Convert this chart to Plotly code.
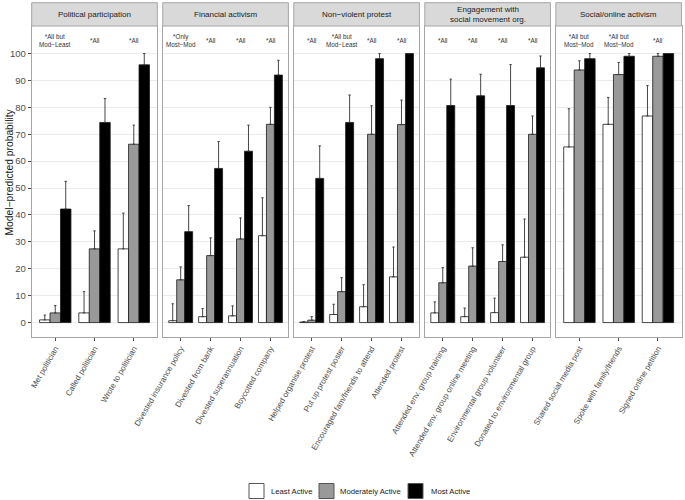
import plotly.graph_objects as go

# ---------------- data ----------------
panels = ["Political participation", "Financial activism", "Non\u2212violent protest",
          "Engagement with<br>social movement org.", "Social/online activism"]

items = ["Met politician", "Called politician", "Wrote to politician",
         "Divested insurance policy", "Divested from bank", "Divested superannuation", "Boycotted company",
         "Helped organise protest", "Put up protest poster", "Encouraged fam/friends to attend", "Attended protest",
         "Attended env. group training", "Attended env. group online meeting",
         "Environmental group volunteer", "Donated to environmental group",
         "Shared social media post", "Spoke with family/friends", "Signed online petition"]
item_panel = [0, 0, 0, 1, 1, 1, 1, 2, 2, 2, 2, 3, 3, 3, 3, 4, 4, 4]

least    = [1.0, 3.6, 27.4, 0.7, 2.2, 2.5, 32.3, 0.2, 3.0, 5.9, 17.0, 3.6, 2.2, 3.7, 24.3, 65.3, 73.7, 76.8]
least_hi = [2.8, 11.5, 40.7, 7.0, 5.2, 6.2, 46.4, 0.4, 6.8, 14.1, 28.1, 7.7, 5.4, 9.1, 38.5, 79.5, 83.7, 88.1]
mod      = [3.6, 27.4, 66.3, 15.9, 24.9, 31.1, 73.7, 0.9, 11.5, 70.0, 73.6, 14.8, 21.0, 22.7, 70.0, 93.9, 92.2, 99.0]
mod_hi   = [6.3, 34.1, 73.4, 20.7, 31.5, 38.9, 80.0, 2.2, 16.7, 80.6, 82.7, 20.4, 27.8, 28.9, 76.8, 97.3, 96.7, 100.0]
most     = [42.2, 74.4, 95.8, 33.8, 57.3, 63.7, 92.0, 53.6, 74.4, 98.1, 100.0, 80.7, 84.3, 80.7, 94.7, 98.1, 99.0, 100.0]
most_hi  = [52.5, 83.3, 100.0, 43.5, 67.3, 73.4, 97.5, 65.7, 84.6, 100.0, 100.0, 90.5, 92.3, 95.9, 99.1, 100.0, 100.0, 100.0]

notes = ["*All but<br>Mod\u2212Least", "*All", "*All",
         "*Only<br>Most\u2212Mod", "*All", "*All", "*All",
         "*All", "*All but<br>Mod\u2212Least", "*All", "*All",
         "*All", "*All", "*All", "*All",
         "*All but<br>Most\u2212Mod", "*All but<br>Most\u2212Mod", "*All"]

groups = ["Least Active", "Moderately Active", "Most Active"]
group_fill = ["#ffffff", "#999999", "#000000"]
y_ticks = [0, 10, 20, 30, 40, 50, 60, 70, 80, 90, 100]
note_y = 105

# ---------------- layout geometry (pixels) ----------------
W, H = 685, 500
FONT = "Liberation Sans, Arial, sans-serif"
left_px, right_px, gap_px = 31.7, 681.5, 5.4
pw = (right_px - left_px - 4 * gap_px) / 5
panel_top, panel_bot = 26.0, 336.7
strip_top = 2.7

def fx(px):
    return px / W

def fy(py):
    return 1 - py / H

fig = go.Figure()
series = [(least, least_hi), (mod, mod_hi), (most, most_hi)]

for p in range(5):
    idx = [i for i in range(len(items)) if item_panel[i] == p]
    cats = [items[i] for i in idx]
    ax = "" if p == 0 else str(p + 1)
    for g in range(3):
        vals, his = series[g]
        v = [vals[i] for i in idx]
        up = [max(his[i] - vals[i], 0) for i in idx]
        fig.add_trace(go.Bar(
            x=cats, y=v, name=groups[g], showlegend=False, hoverinfo="skip",
            xaxis="x" + ax, yaxis="y" + ax, offsetgroup=str(g),
            marker=dict(color=group_fill[g], line=dict(color="#1a1a1a", width=0.8)),
            error_y=dict(type="data", symmetric=False, array=up, arrayminus=[0] * len(up),
                         color="#333333", thickness=0.9, width=1.2),
        ))
    x0 = left_px + p * (pw + gap_px)
    x1 = x0 + pw
    n = len(cats)
    fig.update_layout({
        "xaxis" + ax: dict(domain=[fx(x0), fx(x1)], anchor="y" + ax, type="category",
                           categoryorder="array", categoryarray=cats, automargin=False,
                           range=[-0.6, n - 1 + 0.6], tickangle=-60,
                           tickfont=dict(size=8, color="#4d4d4d", family=FONT),
                           ticks="outside", ticklen=3, tickcolor="#4d4d4d", tickwidth=0.8,
                           showline=True, mirror=True, linecolor="#a6a6a6", linewidth=1,
                           showgrid=False, zeroline=False, fixedrange=True),
        "yaxis" + ax: dict(domain=[fy(panel_bot), fy(panel_top)], anchor="x" + ax,
                           range=[-5.25, 110.25], tickvals=y_ticks, automargin=False,
                           showticklabels=(p == 0),
                           tickfont=dict(size=9.5, color="#4d4d4d", family=FONT),
                           ticks="outside" if p == 0 else "", ticklen=3, tickcolor="#4d4d4d",
                           tickwidth=0.8,
                           showline=True, mirror=True, linecolor="#a6a6a6", linewidth=1,
                           showgrid=True, gridcolor="#ebebeb", gridwidth=1,
                           zeroline=False, fixedrange=True),
    })
    # strip
    fig.add_shape(type="rect", xref="paper", yref="paper",
                  x0=fx(x0), x1=fx(x1), y0=fy(panel_top), y1=fy(strip_top),
                  fillcolor="#d9d9d9", line=dict(color="#a6a6a6", width=1), layer="above")
    fig.add_annotation(xref="paper", yref="paper", x=fx((x0 + x1) / 2),
                       y=fy((panel_top + strip_top) / 2), text=panels[p], showarrow=False,
                       font=dict(size=8, color="#1a1a1a", family=FONT),
                       xanchor="center", yanchor="middle")
    # contrast notes
    for i in idx:
        fig.add_annotation(xref="x" + ax, yref="y" + ax, x=items[i], y=note_y,
                           text=notes[i], showarrow=False, align="center",
                           font=dict(size=6.3, color="#333333", family=FONT),
                           xanchor="center", yanchor="middle")

# y axis title
fig.add_annotation(xref="paper", yref="paper", x=fx(8.5), y=fy(172),
                   text="Model\u2212predicted probability", textangle=-90, showarrow=False,
                   font=dict(size=10.3, color="#1a1a1a", family=FONT),
                   xanchor="center", yanchor="middle")

# legend (keys + labels)
key_x = [249, 319, 408]
text_x = [269, 338, 429]
key_size = 15
key_yc = 491
for g in range(3):
    fig.add_shape(type="rect", xref="paper", yref="paper",
                  x0=fx(key_x[g]), x1=fx(key_x[g] + key_size),
                  y0=fy(key_yc + key_size / 2), y1=fy(key_yc - key_size / 2),
                  fillcolor=group_fill[g], line=dict(color="#555555", width=1))
    fig.add_annotation(xref="paper", yref="paper", x=fx(text_x[g]), y=fy(key_yc),
                       text=groups[g], showarrow=False, xanchor="left", yanchor="middle",
                       font=dict(size=7.7, color="#1a1a1a", family=FONT))

fig.update_layout(
    width=W, height=H, margin=dict(l=0, r=0, t=0, b=0, autoexpand=False),
    paper_bgcolor="white", plot_bgcolor="white",
    barmode="group", bargap=0.2, bargroupgap=0,
    font=dict(family=FONT), showlegend=False,
)

fig.write_html("out.html", config={"displayModeBar": False},
               post_script="document.body.style.margin='0';document.body.style.overflow='hidden';")
